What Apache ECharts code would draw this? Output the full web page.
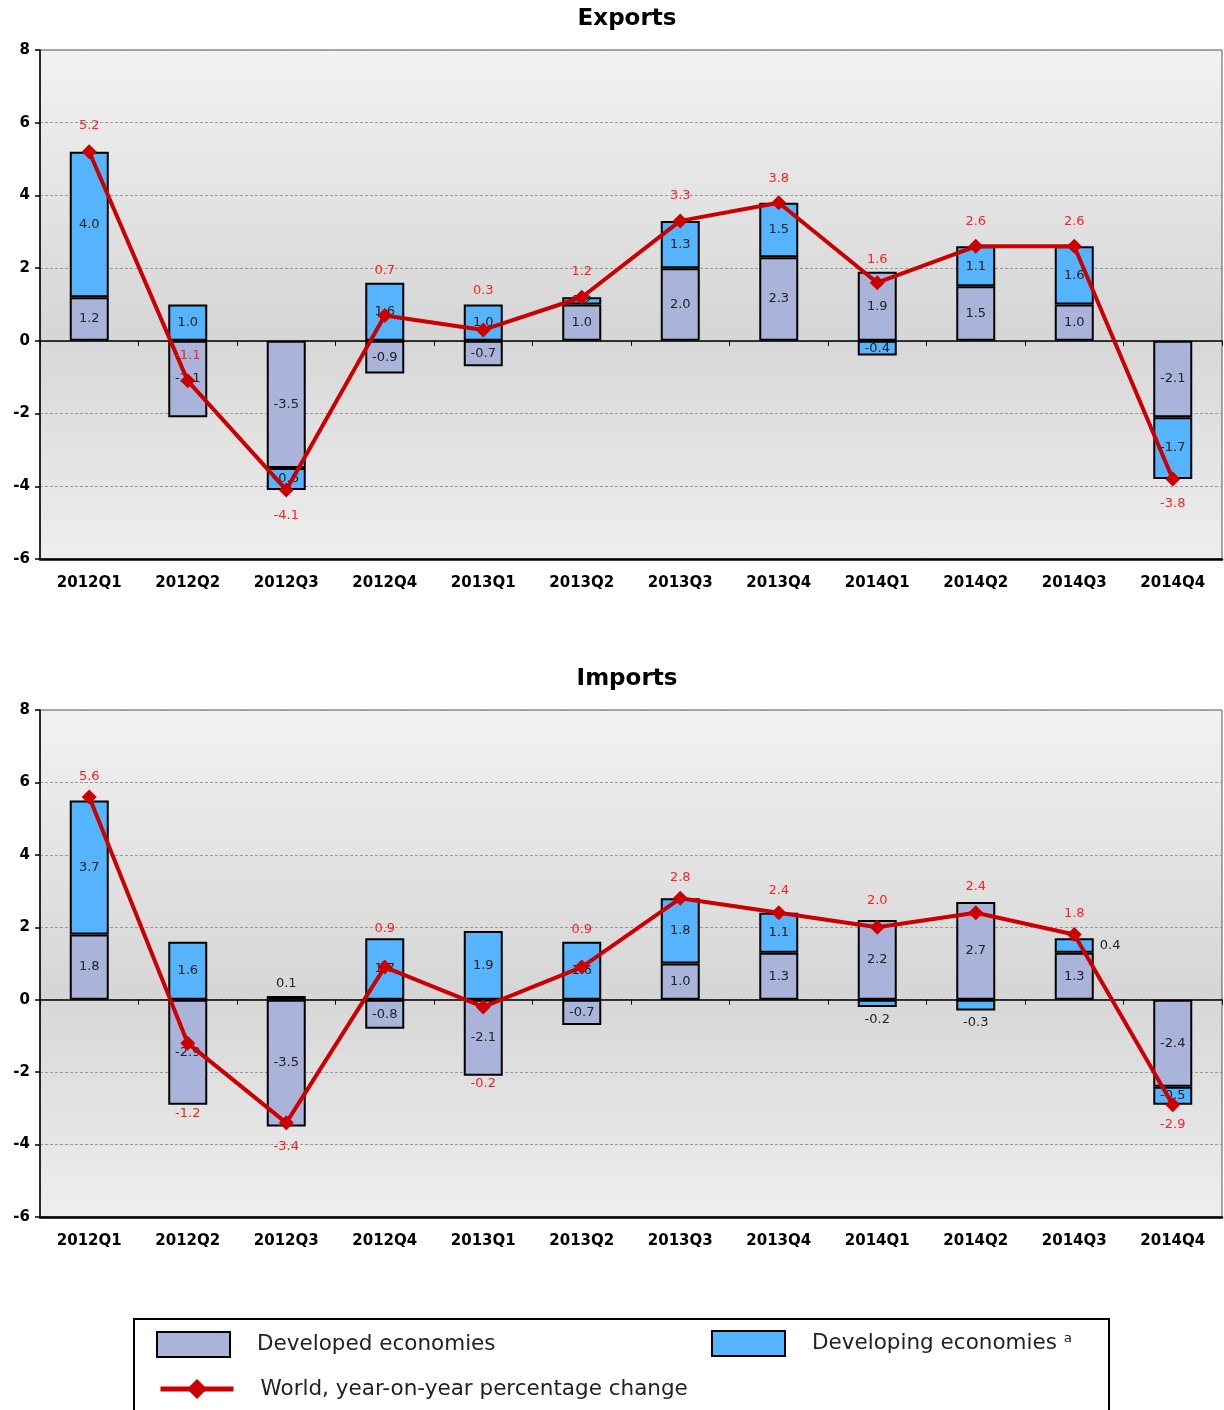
<!DOCTYPE html>
<html><head><meta charset="utf-8">
<script src="https://cdn.jsdelivr.net/npm/echarts@6/dist/echarts.min.js"></script>
<style>html,body{margin:0;padding:0;background:#fff}#c{width:1224px;height:1410px}</style>
</head><body><div id="c"></div>
<script>
// ---------- DATA ----------
const categories = ['2012Q1','2012Q2','2012Q3','2012Q4','2013Q1','2013Q2','2013Q3','2013Q4','2014Q1','2014Q2','2014Q3','2014Q4'];
const yTickMin = -6, yTickMax = 8, yTickStep = 2;

const exportsDeveloped  = [1.2, -2.1, -3.5, -0.9, -0.7, 1.0, 2.0, 2.3, 1.9, 1.5, 1.0, -2.1];
const exportsDeveloping = [4.0, 1.0, -0.6, 1.6, 1.0, 0.2, 1.3, 1.5, -0.4, 1.1, 1.6, -1.7];
const exportsWorld      = [5.2, -1.1, -4.1, 0.7, 0.3, 1.2, 3.3, 3.8, 1.6, 2.6, 2.6, -3.8];

const importsDeveloped  = [1.8, -2.9, -3.5, -0.8, -2.1, -0.7, 1.0, 1.3, 2.2, 2.7, 1.3, -2.4];
const importsDeveloping = [3.7, 1.6, 0.1, 1.7, 1.9, 1.6, 1.8, 1.1, -0.2, -0.3, 0.4, -0.5];
const importsWorld      = [5.6, -1.2, -3.4, 0.9, -0.2, 0.9, 2.8, 2.4, 2.0, 2.4, 1.8, -2.9];

const titles = ['Exports', 'Imports'];
const seriesNames = ['Developed economies', 'Developing economies \u1D43', 'World, year-on-year percentage change'];

// ---------- STYLE (label placement, not data) ----------
const exportsWorldLabelSide = ['top','top','bottom','top','top','top','top','top','top','top','top','bottom'];
const exportsWorldLabelGap  = [12, 11, 12, 31, 25, 12, 11, 10, 9, 11, 11, 11];
const importsWorldLabelSide = ['top','bottom','bottom','top','bottom','top','top','top','top','top','top','bottom'];
const importsWorldLabelGap  = [6, 56, 10, 24, 63, 23, 7, 8, 13, 12, 7, 6];
const exportsDevelopingLabelPos = {};
const importsDevelopingLabelPos = {2: 'top', 8: 'bottom', 9: 'bottom', 10: 'right'};

const FONT = 'DejaVu Sans';
const DEV_COLOR = '#aab3d9';
const DEVG_COLOR = '#56b4fd';
const LINE_COLOR = '#cc0000';

const gridTops = [50, 710];
const gridHeights = [509, 507];
const titleTops = [8, 668];

const bg = {
  type: 'linear', x: 0, y: 0, x2: 0, y2: 1,
  colorStops: [
    {offset: 0, color: '#f2f2f2'},
    {offset: 0.55, color: '#d6d6d6'},
    {offset: 1, color: '#eeeeee'}
  ]
};

const fmt = p => Number(p.value).toFixed(1);

function buildSeries(g, dev, devg, world, sides, gaps, devgPos) {
  const stack = 'st' + g;
  const barLabel = {show: true, position: 'inside', color: '#222', fontFamily: FONT, fontSize: 13, formatter: fmt};
  return [
    {
      name: seriesNames[0], type: 'bar', stack: stack, xAxisIndex: 2 * g, yAxisIndex: g,
      barWidth: 39, z: 2,
      itemStyle: {color: DEV_COLOR, borderColor: '#000', borderWidth: 2},
      label: barLabel,
      data: dev
    },
    {
      name: seriesNames[1], type: 'bar', stack: stack, xAxisIndex: 2 * g, yAxisIndex: g,
      barWidth: 39, z: 2,
      itemStyle: {color: DEVG_COLOR, borderColor: '#000', borderWidth: 2},
      label: barLabel,
      data: devg.map((v, i) => devgPos[i] ? {value: v, label: {position: devgPos[i], distance: 6}} : v)
    },
    {
      name: seriesNames[2], type: 'line', xAxisIndex: 2 * g, yAxisIndex: g, z: 5,
      symbol: 'diamond', symbolSize: 15,
      lineStyle: {color: LINE_COLOR, width: 4},
      itemStyle: {color: LINE_COLOR},
      label: {show: true, color: '#ff2020', fontFamily: FONT, fontSize: 13, formatter: fmt},
      data: world.map((v, i) => ({value: v, label: {position: sides[i], distance: gaps[i]}}))
    }
  ];
}

const grids = [], xAxes = [], yAxes = [], titleArr = [];
for (let g = 0; g < 2; g++) {
  grids.push({left: 40, top: gridTops[g], width: 1182, height: gridHeights[g], show: true,
    backgroundColor: bg, borderColor: '#555', borderWidth: 1});
  titleArr.push({text: titles[g], left: 627, textAlign: 'center', top: titleTops[g], padding: 0,
    textStyle: {fontFamily: FONT, fontSize: 23, fontWeight: 'bold', color: '#000'}});
  xAxes.push({
    type: 'category', gridIndex: g, data: categories, position: 'bottom',
    axisLine: {onZero: false, lineStyle: {color: '#000', width: 2.5}},
    axisTick: {show: false},
    axisLabel: {color: '#000', fontFamily: FONT, fontSize: 15, fontWeight: 'bold', margin: 17},
    splitLine: {show: false}
  });
  xAxes.push({
    type: 'category', gridIndex: g, data: categories, position: 'bottom',
    axisLine: {show: true, onZero: true, onZeroAxisIndex: g, lineStyle: {color: '#000', width: 1.5}},
    axisTick: {show: true, length: 5, lineStyle: {color: '#000', width: 1}},
    axisLabel: {show: false},
    splitLine: {show: false}
  });
  yAxes.push({
    type: 'value', gridIndex: g, min: yTickMin, max: yTickMax, interval: yTickStep,
    axisLine: {show: true, lineStyle: {color: '#000', width: 1.5}},
    axisTick: {show: true, length: 5, lineStyle: {color: '#000', width: 1.5}},
    axisLabel: {color: '#000', fontFamily: FONT, fontSize: 15, fontWeight: 'bold', margin: 10},
    splitLine: {show: true, lineStyle: {color: '#999', width: 1, type: [3, 2]}}
  });
}

const series = [].concat(
  buildSeries(0, exportsDeveloped, exportsDeveloping, exportsWorld, exportsWorldLabelSide, exportsWorldLabelGap, exportsDevelopingLabelPos),
  buildSeries(1, importsDeveloped, importsDeveloping, importsWorld, importsWorldLabelSide, importsWorldLabelGap, importsDevelopingLabelPos)
);

const legendText = {fontFamily: FONT, fontSize: 21.5, color: '#222', padding: [0, 0, 0, 22]};
const legendBase = {orient: 'horizontal', itemWidth: 73, itemHeight: 25, padding: 0, selectedMode: false, textStyle: legendText, z: 10};

const option = {
  animation: false,
  backgroundColor: '#fff',
  title: titleArr,
  grid: grids,
  xAxis: xAxes,
  yAxis: yAxes,
  legend: [
    Object.assign({}, legendBase, {data: [{name: seriesNames[0], icon: 'rect'}], left: 156, top: 1331, itemStyle: {borderColor: '#000', borderWidth: 2}}),
    Object.assign({}, legendBase, {data: [{name: seriesNames[1], icon: 'rect'}], left: 711, top: 1330, itemStyle: {borderColor: '#000', borderWidth: 2}}),
    Object.assign({}, legendBase, {data: [seriesNames[2]], left: 158, top: 1378, itemStyle: {borderWidth: 0}, lineStyle: {width: 5}})
  ],
  graphic: [{
    type: 'rect', left: 133, top: 1318, z: 1,
    shape: {width: 975, height: 120},
    style: {fill: '#fff', stroke: '#000', lineWidth: 2}
  }],
  series: series
};

const chart = echarts.init(document.getElementById('c'), null, {renderer: 'canvas'});
chart.setOption(option);
</script>
</body></html>
